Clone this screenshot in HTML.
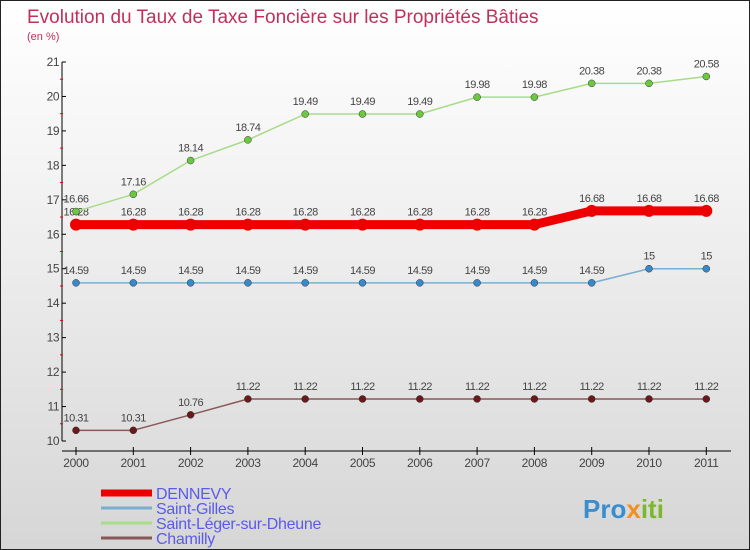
<!DOCTYPE html>
<html><head><meta charset="utf-8"><style>
body{margin:0}
#c{width:748px;height:548px;border:1px solid #222;background:linear-gradient(#fff,#f4f4f4 30%,#d6d6d6);position:relative;overflow:hidden;font-family:"Liberation Sans",sans-serif}
svg{position:absolute;left:0;top:0}
</style></head><body>
<div id="c">
<svg id="s" width="748" height="548" font-family="Liberation Sans, sans-serif">
<text x="26" y="22" font-size="19" fill="#c0305a">Evolution du Taux de Taxe Foncière sur les Propriétés Bâties</text>
<text x="26" y="39" font-size="11" fill="#c0305a">(en %)</text>
<text x="582" y="517" font-size="26" font-weight="bold" fill="#3a8ed0">Pro<tspan fill="#f09020">x</tspan><tspan fill="#7cb82f">iti</tspan></text>
</svg>
</div>
<script>
const years=[2000,2001,2002,2003,2004,2005,2006,2007,2008,2009,2010,2011];
const yTicks=[10,11,12,13,14,15,16,17,18,19,20,21];
const dennevy=[16.28,16.28,16.28,16.28,16.28,16.28,16.28,16.28,16.28,16.68,16.68,16.68];
const saintGilles=[14.59,14.59,14.59,14.59,14.59,14.59,14.59,14.59,14.59,14.59,15,15];
const saintLeger=[16.66,17.16,18.14,18.74,19.49,19.49,19.49,19.98,19.98,20.38,20.38,20.58];
const chamilly=[10.31,10.31,10.76,11.22,11.22,11.22,11.22,11.22,11.22,11.22,11.22,11.22];
const series=[
 {name:"DENNEVY",vals:dennevy,color:"#ee0000",w:9,r:6,dot:"#ee0000",id:"dennevy"},
 {name:"Saint-Gilles",vals:saintGilles,color:"#7aaed0",w:1.5,r:3.5,dot:"#3a88c8",id:"saint-gilles"},
 {name:"Saint-Léger-sur-Dheune",vals:saintLeger,color:"#a8dc88",w:1.5,r:3.5,dot:"#6cc840",id:"saint-leger"},
 {name:"Chamilly",vals:chamilly,color:"#8a5858",w:1.5,r:3.5,dot:"#6a1818",id:"chamilly"}];
const NS="http://www.w3.org/2000/svg",s=document.getElementById('s');
const X=i=>75+i*57.3, Y=v=>440-(v-10)*(379/11);
function el(t,a,txt){const e=document.createElementNS(NS,t);for(const k in a)e.setAttribute(k,a[k]);if(txt!=null)e.textContent=txt;s.appendChild(e);return e;}
let e=el('line',{x1:61,y1:61,x2:61,y2:440,stroke:'#000'});


e=el('line',{x1:61,y1:450,x2:730,y2:450,stroke:'#000'});


yTicks.forEach(v=>{el('line',{x1:61,y1:Y(v),x2:65,y2:Y(v),stroke:'#000'});
 if(v<21)el('line',{x1:59,y1:Y(v+0.5),x2:62,y2:Y(v+0.5),stroke:'#e00'});
 e=el('text',{x:58,y:Y(v)+4,'font-size':12,'text-anchor':'end',fill:'#444','letter-spacing':'-0.5'},v);
 
 });
years.forEach((y,i)=>{el('line',{x1:X(i),y1:446,x2:X(i),y2:454,stroke:'#000'});
 e=el('text',{x:X(i),y:466,'font-size':12,'text-anchor':'middle',fill:'#444','letter-spacing':'-0.3'},y);
 
 });
series.forEach(sr=>{
 e=el('polyline',{points:sr.vals.map((v,i)=>X(i)+','+Y(v)).join(' '),fill:'none',stroke:sr.color,'stroke-width':sr.w,'stroke-linejoin':'round'});
 
 
 sr.vals.forEach((v,i)=>{
  e=el('circle',{cx:X(i),cy:Y(v),r:sr.r,fill:sr.dot,stroke:sr.w>2?'none':'#333','stroke-width':0.5});
  
  
  e=el('text',{x:X(i),y:Y(v)-9,'font-size':11,'text-anchor':'middle',fill:'#444','letter-spacing':'-0.5'},v);
  
  
 });
});
series.forEach((sr,k)=>{const y=492+k*15;
 e=el('line',{x1:100,y1:y,x2:151,y2:y,stroke:sr.color,'stroke-width':sr.w>2?7:3});
 
 
 e=el('text',{x:155,y:y+6,'font-size':16,fill:'#5a5aee','letter-spacing':'-0.3'},sr.name);
 
 
});
</script>
</body></html>
